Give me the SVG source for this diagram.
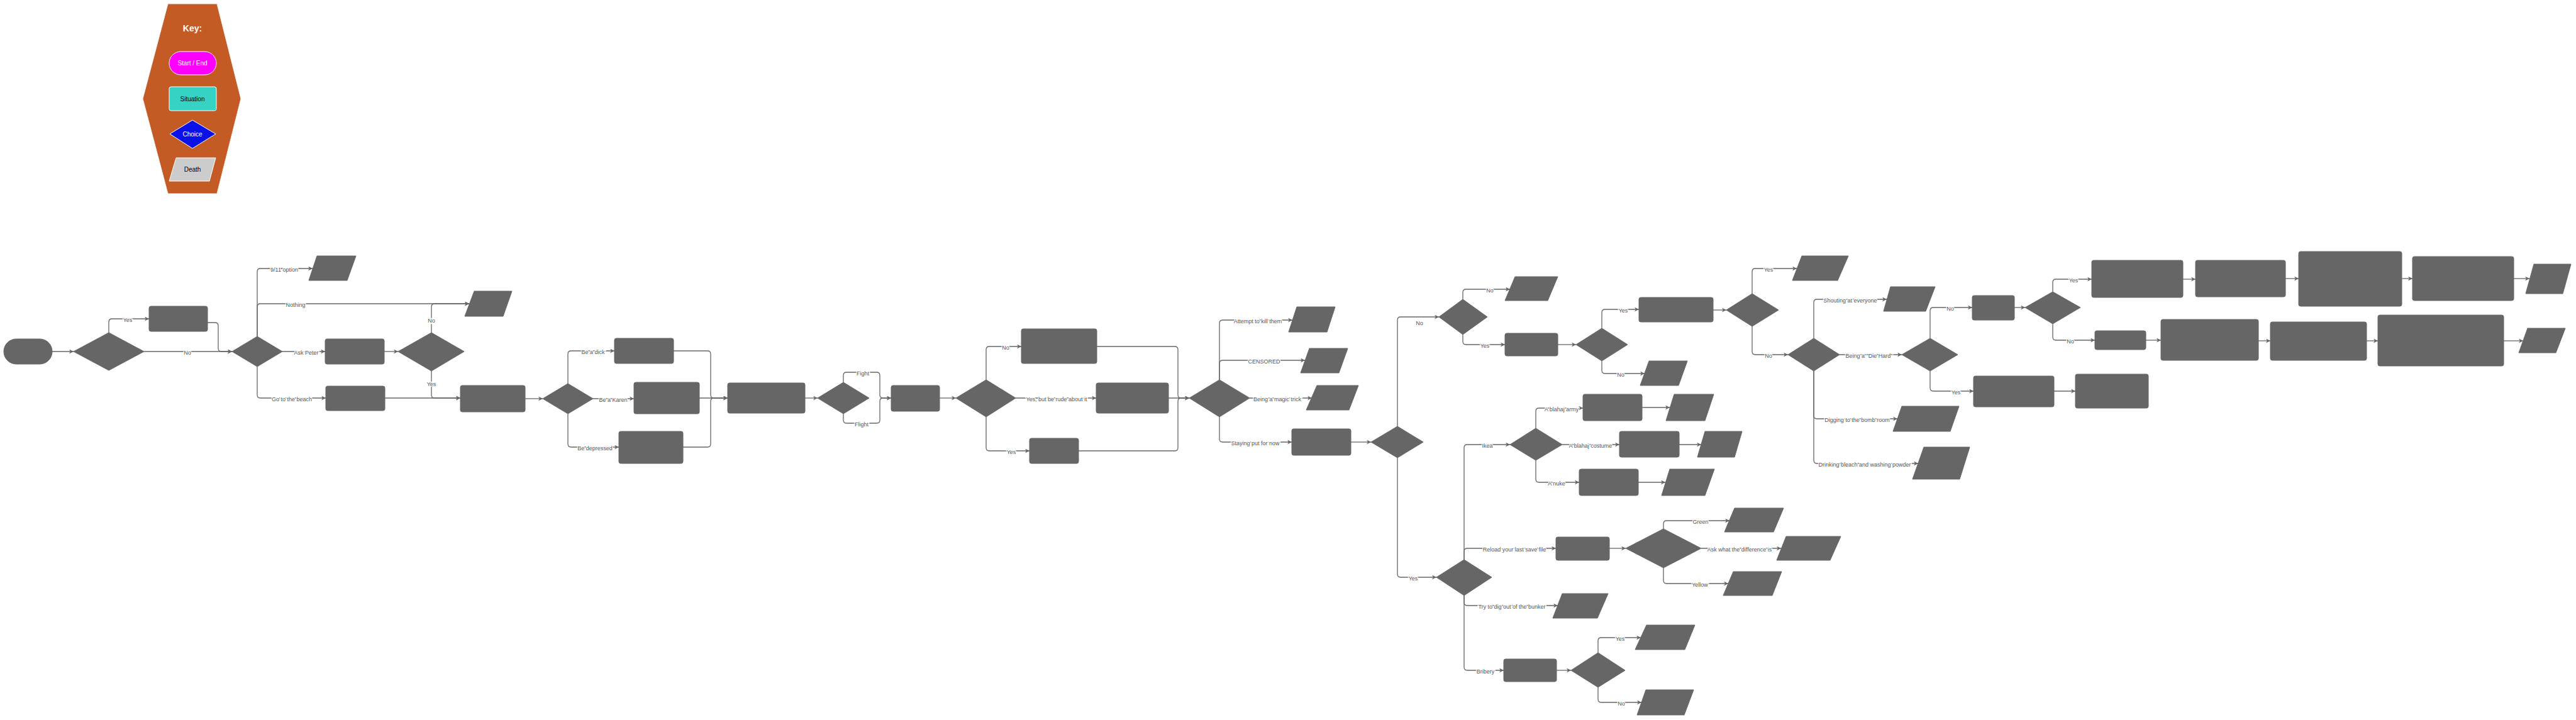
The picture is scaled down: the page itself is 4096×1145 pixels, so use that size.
<svg xmlns="http://www.w3.org/2000/svg" width="4096" height="1145" viewBox="0 0 4096 1145">
<defs>
<marker id="arr" markerWidth="8" markerHeight="8" refX="7" refY="3.5" orient="auto" markerUnits="userSpaceOnUse">
<path d="M0,0 L7,3.5 L0,7 L2,3.5 z" fill="#666"/>
</marker>
</defs>
<style>
.n{fill:#666;stroke:#666;stroke-width:1;stroke-linejoin:round}
.e{fill:none;stroke:#666;stroke-width:1.3;marker-end:url(#arr)}
.l{font-family:"Liberation Sans",Arial,sans-serif;font-size:9px;fill:#555;text-anchor:middle;dominant-baseline:central;paint-order:stroke;stroke:#fff;stroke-width:2.5px;transform:translateY(2px)}
.k{font-family:"Liberation Sans",Arial,sans-serif;text-anchor:middle;dominant-baseline:central}
</style>
<rect width="4096" height="1145" fill="#fff"/>

<g id="key">
<polygon points="267,6 345,6 383,157 345,308 267,308 227,157" fill="#C45A24" stroke="#f2f2f2" stroke-width="1"/>
<text class="k" x="306" y="45" font-size="14" font-weight="bold" fill="#fff">Key:</text>
<rect x="269" y="82" width="75" height="37" rx="18.5" fill="#FF00FF" stroke="#fff" stroke-width="1"/>
<text class="k" x="306" y="100.5" font-size="10" fill="#fff">Start / End</text>
<rect x="269" y="138" width="75" height="38" rx="3" fill="#36D3C4" stroke="#fff" stroke-width="1"/>
<text class="k" x="306" y="157" font-size="10" fill="#000">Situation</text>
<polygon points="270,213 306,191 343,213 306,236" fill="#0A10E8" stroke="#fff" stroke-width="1"/>
<text class="k" x="306" y="213" font-size="10" fill="#fff">Choice</text>
<polygon points="280,251 343,251 333,288 269,288" fill="#CCCCCC" stroke="#fff" stroke-width="1" stroke-linejoin="round"/>
<text class="k" x="306" y="269.5" font-size="10" fill="#000">Death</text>
</g>

<g id="connectors">
<path class="e" d="M83,559 H117"/>
<path class="e" d="M173,529 V512 Q173,507 178,507 H237"/>
<path class="e" d="M330,513 H342 Q347,513 347,518 V554 Q347,559 352,559 H369"/>
<path class="e" d="M229,559 H369"/>
<path class="e" d="M409,535 V432 Q409,427 414,427 H497"/>
<path class="e" d="M409,535 V488 Q409,483 414,483 H746"/>
<path class="e" d="M449,559 H517"/>
<path class="e" d="M409,583 V628 Q409,633 414,633 H518"/>
<path class="e" d="M611,559 H633"/>
<path class="e" d="M686,529 V488 Q686,483 691,483 H746"/>
<path class="e" d="M686,590 V628 Q686,633 691,633 H732"/>
<path class="e" d="M612,633 H732"/>
<path class="e" d="M835,634 H863"/>
<path class="e" d="M903,610 V563 Q903,558 908,558 H977"/>
<path class="e" d="M943,634 H1008"/>
<path class="e" d="M903,658 V706 Q903,711 908,711 H984"/>
<path class="e" d="M1071,558 H1125 Q1130,558 1130,563 V628 Q1130,633 1135,633 H1157"/>
<path class="e" d="M1112,633 H1157"/>
<path class="e" d="M1086,711 H1125 Q1130,711 1130,706 V638 Q1130,633 1135,633 H1157"/>
<path class="e" d="M1280,633 H1300"/>
<path class="e" d="M1341,608 V597 Q1341,592 1346,592 H1394 Q1399,592 1399,597 V628 Q1399,633 1404,633 H1417"/>
<path class="e" d="M1341,658 V668 Q1341,673 1346,673 H1394 Q1399,673 1399,668 V638 Q1399,633 1404,633 H1417"/>
<path class="e" d="M1494,633 H1520"/>
<path class="e" d="M1568,604 V556 Q1568,551 1573,551 H1624"/>
<path class="e" d="M1615,633 H1743"/>
<path class="e" d="M1568,663 V712 Q1568,717 1573,717 H1637"/>
<path class="e" d="M1744,551 H1868 Q1873,551 1873,556 V628 Q1873,633 1878,633 H1891"/>
<path class="e" d="M1858,633 H1891"/>
<path class="e" d="M1715,717 H1868 Q1873,717 1873,712 V638 Q1873,633 1878,633 H1891"/>
<path class="e" d="M1939,604 V514 Q1939,509 1944,509 H2055"/>
<path class="e" d="M1939,604 V578 Q1939,573 1944,573 H2075"/>
<path class="e" d="M1987,633 H2086"/>
<path class="e" d="M1939,663 V698 Q1939,703 1944,703 H2054"/>
<path class="e" d="M2148,703 H2180"/>
<path class="e" d="M2222,678 V509 Q2222,504 2227,504 H2288"/>
<path class="e" d="M2326,476 V465 Q2326,460 2331,460 H2401"/>
<path class="e" d="M2326,532 V543 Q2326,548 2331,548 H2393"/>
<path class="e" d="M2477,548 H2506"/>
<path class="e" d="M2547,522 V497 Q2547,492 2552,492 H2606"/>
<path class="e" d="M2547,574 V589 Q2547,594 2552,594 H2615"/>
<path class="e" d="M2724,493 H2745"/>
<path class="e" d="M2786,467 V432 Q2786,427 2791,427 H2857"/>
<path class="e" d="M2786,519 V559 Q2786,564 2791,564 H2843"/>
<path class="e" d="M2884,538 V481 Q2884,476 2889,476 H3000"/>
<path class="e" d="M2925,564 H3024"/>
<path class="e" d="M2884,590 V661 Q2884,666 2889,666 H3017"/>
<path class="e" d="M2884,590 V732 Q2884,737 2889,737 H3050"/>
<path class="e" d="M3069,538 V494 Q3069,489 3074,489 H3136"/>
<path class="e" d="M3069,590 V617 Q3069,622 3074,622 H3138"/>
<path class="e" d="M3203,489 H3220"/>
<path class="e" d="M3264,464 V449 Q3264,444 3269,444 H3326"/>
<path class="e" d="M3264,515 V536 Q3264,541 3269,541 H3331"/>
<path class="e" d="M3471,444 H3491"/>
<path class="e" d="M3634,443 H3655"/>
<path class="e" d="M3819,443 H3836"/>
<path class="e" d="M3997,443 H4022"/>
<path class="e" d="M3412,541 H3436"/>
<path class="e" d="M3591,542 H3610"/>
<path class="e" d="M3763,542 H3781"/>
<path class="e" d="M3981,542 H4012"/>
<path class="e" d="M3266,622 H3300"/>
<path class="e" d="M2222,728 V913 Q2222,918 2227,918 H2284"/>
<path class="e" d="M2328,890 V712 Q2328,707 2333,707 H2401"/>
<path class="e" d="M2328,890 V877 Q2328,872 2333,872 H2474"/>
<path class="e" d="M2328,947 V958 Q2328,963 2333,963 H2477"/>
<path class="e" d="M2328,947 V1061 Q2328,1066 2333,1066 H2391"/>
<path class="e" d="M2442,681 V654 Q2442,649 2447,649 H2517"/>
<path class="e" d="M2484,707 H2575"/>
<path class="e" d="M2442,732 V762 Q2442,767 2447,767 H2511"/>
<path class="e" d="M2611,648 H2655"/>
<path class="e" d="M2670,707 H2705"/>
<path class="e" d="M2605,767 H2648"/>
<path class="e" d="M2559,872 H2585"/>
<path class="e" d="M2645,841 V833 Q2645,828 2650,828 H2750"/>
<path class="e" d="M2705,872 H2832"/>
<path class="e" d="M2645,903 V923 Q2645,928 2650,928 H2748"/>
<path class="e" d="M2475,1066 H2498"/>
<path class="e" d="M2541,1038 V1019 Q2541,1014 2546,1014 H2609"/>
<path class="e" d="M2541,1093 V1112 Q2541,1117 2546,1117 H2610"/>

<text class="l" x="203" y="507">Yes</text>
<text class="l" x="298" y="559">No</text>
<text class="l" x="452" y="427">9/11 option</text>
<text class="l" x="470" y="483">Nothing</text>
<text class="l" x="487" y="559">Ask Peter</text>
<text class="l" x="464" y="633">Go to the beach</text>
<text class="l" x="686" y="508">No</text>
<text class="l" x="686" y="609">Yes</text>
<text class="l" x="943" y="558">Be a dick</text>
<text class="l" x="975" y="634">Be a Karen</text>
<text class="l" x="946" y="711">Be depressed</text>
<text class="l" x="1372" y="592">Fight</text>
<text class="l" x="1370" y="673">Flight</text>
<text class="l" x="1599" y="551">No</text>
<text class="l" x="1680" y="633">Yes, but be rude about it</text>
<text class="l" x="1608" y="717">Yes</text>
<text class="l" x="2000" y="509">Attempt to kill them</text>
<text class="l" x="2010" y="573">CENSORED</text>
<text class="l" x="2031" y="633">Being a magic trick</text>
<text class="l" x="1996" y="703">Staying put for now</text>
<text class="l" x="2257" y="512">No</text>
<text class="l" x="2369" y="460">No</text>
<text class="l" x="2361" y="548">Yes</text>
<text class="l" x="2581" y="492">Yes</text>
<text class="l" x="2577" y="594">No</text>
<text class="l" x="2812" y="427">Yes</text>
<text class="l" x="2812" y="564">No</text>
<text class="l" x="2942" y="476">Shouting at everyone</text>
<text class="l" x="2972" y="564">Being a "Die Hard"</text>
<text class="l" x="2953" y="666">Digging to the bomb room</text>
<text class="l" x="2965" y="737">Drinking bleach and washing powder</text>
<text class="l" x="3101" y="489">No</text>
<text class="l" x="3110" y="622">Yes</text>
<text class="l" x="3297" y="444">Yes</text>
<text class="l" x="3292" y="541">No</text>
<text class="l" x="2247" y="918">Yes</text>
<text class="l" x="2365" y="707">Ikea</text>
<text class="l" x="2408" y="872">Reload your last save file</text>
<text class="l" x="2404" y="963">Try to dig out of the bunker</text>
<text class="l" x="2362" y="1066">Bribery</text>
<text class="l" x="2483" y="649">A blahaj army</text>
<text class="l" x="2529" y="707">A blahaj costume</text>
<text class="l" x="2475" y="767">A nuke</text>
<text class="l" x="2704" y="828">Green</text>
<text class="l" x="2766" y="872">Ask what the difference is</text>
<text class="l" x="2703" y="928">Yellow</text>
<text class="l" x="2576" y="1014">Yes</text>
<text class="l" x="2578" y="1117">No</text>
</g>

<g id="start"><rect class="n" x="6" y="539" width="77" height="40" rx="20"/></g>
<g id="d1"><polygon class="n" points="117,559 173,529 229,559 173,589"/></g>
<g id="bA"><rect class="n" x="237" y="487" width="93" height="40" rx="3"/></g>
<g id="d2"><polygon class="n" points="369,559 409,535 449,559 409,583"/></g>
<g id="p911"><polygon class="n" points="504,407 566,407 552,446 491,446"/></g>
<g id="bB"><rect class="n" x="517" y="539" width="94" height="40" rx="3"/></g>
<g id="bC"><rect class="n" x="518" y="614" width="94" height="39" rx="3"/></g>
<g id="d3"><polygon class="n" points="633,559 686,529 738,559 686,590"/></g>
<g id="pNothing"><polygon class="n" points="754,463 814,463 800,503 739,503"/></g>
<g id="bD"><rect class="n" x="732" y="613" width="103" height="42" rx="3"/></g>
<g id="d4"><polygon class="n" points="863,634 903,610 943,634 903,658"/></g>
<g id="bE"><rect class="n" x="977" y="538" width="94" height="40" rx="3"/></g>
<g id="bF"><rect class="n" x="1008" y="608" width="104" height="50" rx="3"/></g>
<g id="bH"><rect class="n" x="984" y="686" width="102" height="51" rx="3"/></g>
<g id="bG"><rect class="n" x="1157" y="609" width="123" height="48" rx="3"/></g>
<g id="d5"><polygon class="n" points="1300,633 1341,608 1382,633 1341,658"/></g>
<g id="bI"><rect class="n" x="1417" y="613" width="77" height="41" rx="3"/></g>
<g id="d6"><polygon class="n" points="1520,633 1568,604 1615,633 1568,663"/></g>
<g id="bJ"><rect class="n" x="1624" y="523" width="120" height="55" rx="3"/></g>
<g id="bK"><rect class="n" x="1743" y="609" width="115" height="48" rx="3"/></g>
<g id="bL"><rect class="n" x="1637" y="697" width="78" height="40" rx="3"/></g>
<g id="d7"><polygon class="n" points="1891,633 1939,604 1987,633 1939,663"/></g>
<g id="pKill"><polygon class="n" points="2062,488 2123,488 2110,528 2049,528"/></g>
<g id="pCens"><polygon class="n" points="2082,554 2143,554 2129,593 2068,593"/></g>
<g id="pMagic"><polygon class="n" points="2094,613 2160,613 2145,652 2077,652"/></g>
<g id="bStay"><rect class="n" x="2054" y="682" width="94" height="42" rx="3"/></g>
<g id="d8"><polygon class="n" points="2180,703 2222,678 2263,703 2222,728"/></g>
<g id="d9"><polygon class="n" points="2288,504 2326,476 2365,504 2326,532"/></g>
<g id="pD9"><polygon class="n" points="2409,440 2477,440 2461,478 2393,478"/></g>
<g id="bM"><rect class="n" x="2393" y="530" width="84" height="36" rx="3"/></g>
<g id="d10"><polygon class="n" points="2506,548 2547,522 2588,548 2547,574"/></g>
<g id="bN"><rect class="n" x="2606" y="473" width="118" height="39" rx="3"/></g>
<g id="pD10"><polygon class="n" points="2622,574 2683,574 2669,613 2608,613"/></g>
<g id="d13"><polygon class="n" points="2745,493 2786,467 2828,493 2786,519"/></g>
<g id="pD13"><polygon class="n" points="2865,407 2939,407 2922,446 2850,446"/></g>
<g id="d14"><polygon class="n" points="2843,564 2884,538 2925,564 2884,590"/></g>
<g id="pShout"><polygon class="n" points="3006,456 3077,456 3062,495 2995,495"/></g>
<g id="d15"><polygon class="n" points="3024,564 3069,538 3113,564 3069,590"/></g>
<g id="bR"><rect class="n" x="3136" y="470" width="67" height="39" rx="3"/></g>
<g id="d16"><polygon class="n" points="3220,489 3264,464 3308,489 3264,515"/></g>
<g id="bS"><rect class="n" x="3326" y="414" width="145" height="59" rx="3"/></g>
<g id="bX"><rect class="n" x="3491" y="414" width="143" height="58" rx="3"/></g>
<g id="bY"><rect class="n" x="3655" y="400" width="164" height="87" rx="3"/></g>
<g id="bZ"><rect class="n" x="3836" y="408" width="161" height="70" rx="3"/></g>
<g id="pF1"><polygon class="n" points="4029,420 4088,420 4075,467 4016,467"/></g>
<g id="bT"><rect class="n" x="3331" y="526" width="81" height="30" rx="3"/></g>
<g id="bU"><rect class="n" x="3436" y="508" width="155" height="65" rx="3"/></g>
<g id="bAA"><rect class="n" x="3610" y="512" width="153" height="61" rx="3"/></g>
<g id="bAB"><rect class="n" x="3781" y="501" width="200" height="81" rx="3"/></g>
<g id="pF2"><polygon class="n" points="4019,522 4079,522 4064,561 4005,561"/></g>
<g id="bV"><rect class="n" x="3138" y="598" width="128" height="49" rx="3"/></g>
<g id="bW"><rect class="n" x="3300" y="595" width="116" height="54" rx="3"/></g>
<g id="pDig"><polygon class="n" points="3024,646 3115,646 3101,686 3010,686"/></g>
<g id="pDrink"><polygon class="n" points="3059,711 3132,711 3116,762 3041,762"/></g>
<g id="d12"><polygon class="n" points="2401,707 2442,681 2484,707 2442,732"/></g>
<g id="bO"><rect class="n" x="2517" y="627" width="94" height="42" rx="3"/></g>
<g id="pO"><polygon class="n" points="2662,627 2725,627 2711,669 2649,669"/></g>
<g id="bP"><rect class="n" x="2575" y="686" width="95" height="41" rx="3"/></g>
<g id="pP"><polygon class="n" points="2711,686 2770,686 2758,727 2699,727"/></g>
<g id="bQ"><rect class="n" x="2511" y="746" width="94" height="42" rx="3"/></g>
<g id="pQ"><polygon class="n" points="2655,746 2726,746 2711,788 2642,788"/></g>
<g id="d11"><polygon class="n" points="2284,918 2328,890 2372,918 2328,947"/></g>
<g id="bReload"><rect class="n" x="2474" y="854" width="85" height="37" rx="3"/></g>
<g id="d17"><polygon class="n" points="2585,872 2645,841 2705,872 2645,903"/></g>
<g id="pGreen"><polygon class="n" points="2758,808 2836,808 2820,846 2742,846"/></g>
<g id="pAsk"><polygon class="n" points="2840,853 2927,853 2910,891 2825,891"/></g>
<g id="pYellow"><polygon class="n" points="2756,909 2833,909 2818,947 2740,947"/></g>
<g id="pDigOut"><polygon class="n" points="2484,944 2557,944 2540,983 2469,983"/></g>
<g id="bBribe"><rect class="n" x="2391" y="1048" width="84" height="36" rx="3"/></g>
<g id="d18"><polygon class="n" points="2498,1066 2541,1038 2584,1066 2541,1093"/></g>
<g id="pYes18"><polygon class="n" points="2618,994 2695,994 2679,1033 2600,1033"/></g>
<g id="pNo18"><polygon class="n" points="2617,1097 2693,1097 2678,1137 2603,1137"/></g>
</svg>
